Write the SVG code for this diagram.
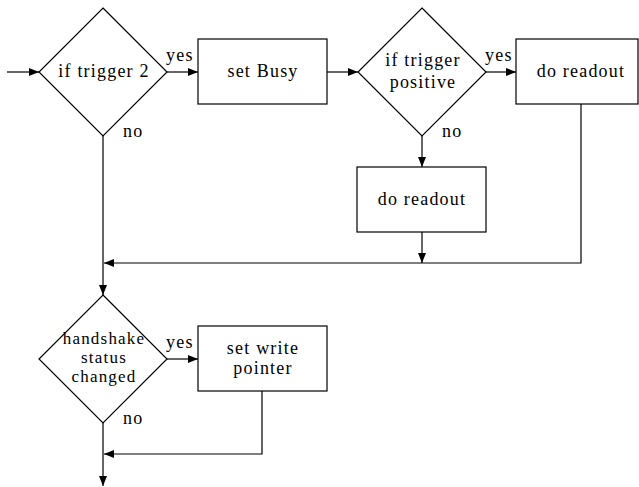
<svg xmlns="http://www.w3.org/2000/svg" width="639" height="487" viewBox="0 0 639 487">
<defs>
<marker id="ah" viewBox="0 0 10 8" refX="10" refY="4" markerWidth="10" markerHeight="8" markerUnits="userSpaceOnUse" orient="auto">
<path d="M0,0 L10,4 L0,8 Z" fill="#000"/>
</marker>
</defs>
<style>
.shape{fill:#fff;stroke:#000;stroke-width:1.2}
.line{fill:none;stroke:#000;stroke-width:1.2}
.arr{fill:none;stroke:#000;stroke-width:1.2;marker-end:url(#ah)}
text{font-family:"Liberation Serif","Times New Roman",serif;font-size:18px;letter-spacing:1.2px;fill:#000}
.c{text-anchor:middle}
.s{font-size:17px}
</style>
<rect width="639" height="487" fill="#fff"/>
<g id="connectors">
<line class="arr" x1="7" y1="72" x2="39" y2="72"/>
<line class="arr" x1="167" y1="72" x2="198" y2="72"/>
<line class="arr" x1="327" y1="72" x2="358" y2="72"/>
<line class="arr" x1="486" y1="72" x2="516" y2="72"/>
<line class="arr" x1="422" y1="136" x2="422" y2="167"/>
<line class="arr" x1="422" y1="232" x2="422" y2="263"/>
<polyline class="arr" points="581,104 581,263 104,263"/>
<line class="arr" x1="103" y1="136" x2="103" y2="295"/>
<line class="arr" x1="167" y1="359" x2="198" y2="359"/>
<polyline class="arr" points="262,391 262,454 104,454"/>
<line class="arr" x1="103" y1="423" x2="103" y2="486"/>
<text x="166" y="61">yes</text>
<text x="123" y="137">no</text>
<text x="485" y="61">yes</text>
<text x="442" y="137">no</text>
<text x="166" y="348">yes</text>
<text x="123" y="424">no</text>
</g>
<g id="dec1">
<polygon class="shape" points="103,8 167,72 103,136 39,72"/>
<text class="c" x="104" y="77">if trigger 2</text>
</g>
<g id="setbusy">
<rect class="shape" x="198" y="39" width="129" height="65"/>
<text class="c" x="263" y="77">set Busy</text>
</g>
<g id="dec2">
<polygon class="shape" points="422,8 486,72 422,136 358,72"/>
<text class="c" x="423" y="66">if trigger</text>
<text class="c" x="423" y="88">positive</text>
</g>
<g id="readout1">
<rect class="shape" x="516" y="39" width="122" height="65"/>
<text class="c" x="581" y="77">do readout</text>
</g>
<g id="readout2">
<rect class="shape" x="357" y="167" width="129" height="65"/>
<text class="c" x="422" y="205">do readout</text>
</g>
<g id="dec3">
<polygon class="shape" points="103,295 167,359 103,423 39,359"/>
<text class="c s" x="104" y="344">handshake</text>
<text class="c s" x="104" y="363">status</text>
<text class="c s" x="104" y="382">changed</text>
</g>
<g id="setwrite">
<rect class="shape" x="198" y="326" width="129" height="65"/>
<text class="c" x="263" y="354">set write</text>
<text class="c" x="263" y="374">pointer</text>
</g>
</svg>
